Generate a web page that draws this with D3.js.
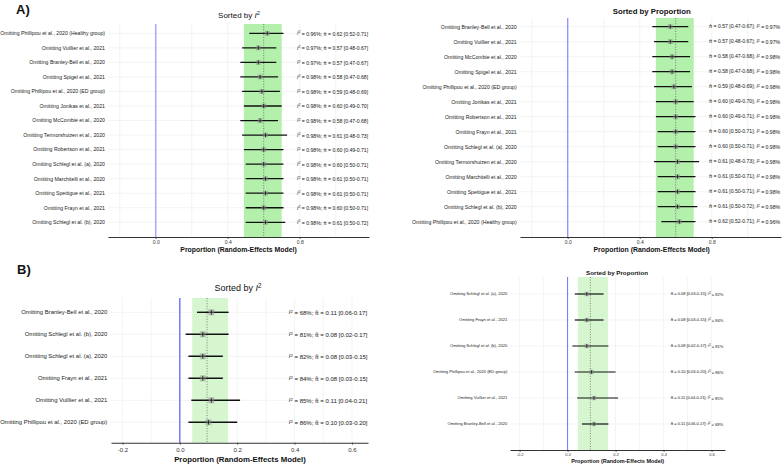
<!DOCTYPE html>
<html><head><meta charset="utf-8">
<script src="https://cdn.jsdelivr.net/npm/d3@7"></script>
<style>
body{margin:0;background:#fff}
svg{display:block;font-family:"Liberation Sans",Arial,Helvetica,sans-serif}
</style>
</head><body>
<svg id="chart" width="783" height="464"></svg>
<script>
// ---------------- DATA: Panel A (14 leave-one-out analyses) ----------------
const studiesA = [
  "Phillipou et al., 2020 (Healthy group)", "Vuillier et al., 2021", "Branley-Bell et al., 2020",
  "Spigel et al., 2021", "Phillipou et al., 2020 (ED group)", "Jonikas et al., 2021",
  "McCombie et al., 2020", "Termorshuizen et al., 2020", "Robertson et al., 2021",
  "Schlegl et al. (a), 2020", "Marchitelli et al., 2020", "Spettigue et al., 2021",
  "Frayn et al., 2021", "Schlegl et al. (b), 2020"
];
const estA  = [0.62, 0.57, 0.57, 0.58, 0.59, 0.60, 0.58, 0.61, 0.60, 0.60, 0.61, 0.61, 0.60, 0.61];
const lowA  = [0.52, 0.48, 0.47, 0.47, 0.48, 0.49, 0.47, 0.48, 0.49, 0.50, 0.50, 0.50, 0.50, 0.50];
const highA = [0.71, 0.67, 0.67, 0.68, 0.69, 0.70, 0.68, 0.73, 0.71, 0.71, 0.71, 0.71, 0.71, 0.72];
const i2A   = [0.96, 0.97, 0.97, 0.98, 0.98, 0.98, 0.98, 0.98, 0.98, 0.98, 0.98, 0.98, 0.98, 0.98];
const orderA_I2 = studiesA.slice();
const orderA_Prop = [
  "Branley-Bell et al., 2020", "Vuillier et al., 2021", "McCombie et al., 2020", "Spigel et al., 2021",
  "Phillipou et al., 2020 (ED group)", "Jonikas et al., 2021", "Robertson et al., 2021",
  "Frayn et al., 2021", "Schlegl et al. (a), 2020", "Termorshuizen et al., 2020",
  "Marchitelli et al., 2020", "Spettigue et al., 2021", "Schlegl et al. (b), 2020",
  "Phillipou et al., 2020 (Healthy group)"
];
const pooledA = [0.60, 0.49, 0.70];   // estimate, lower, upper
const ticksA = [0.0, 0.4, 0.8];
const gridA  = [-0.2, 0.0, 0.2, 0.4, 0.6, 0.8, 1.0];

// ---------------- DATA: Panel B (6 leave-one-out analyses) ----------------
const studiesB = [
  "Branley-Bell et al., 2020", "Schlegl et al. (b), 2020", "Schlegl et al. (a), 2020",
  "Frayn et al., 2021", "Vuillier et al., 2021", "Phillipou et al., 2020 (ED group)"
];
const estB  = [0.11, 0.08, 0.08, 0.08, 0.11, 0.10];
const lowB  = [0.06, 0.02, 0.03, 0.03, 0.04, 0.03];
const highB = [0.17, 0.17, 0.15, 0.15, 0.21, 0.20];
const i2B   = [68, 81, 82, 84, 85, 86];
const orderB_I2 = studiesB.slice();
const orderB_Prop = [
  "Schlegl et al. (a), 2020", "Frayn et al., 2021", "Schlegl et al. (b), 2020",
  "Phillipou et al., 2020 (ED group)", "Vuillier et al., 2021", "Branley-Bell et al., 2020"
];
const pooledB = [0.095, 0.043, 0.168];
const ticksB = [-0.2, 0.0, 0.2, 0.4, 0.6];
const gridB  = [-0.2, -0.1, 0.0, 0.1, 0.2, 0.3, 0.4, 0.5, 0.6];

const axisTitle = "Proportion (Random-Effects Model)";
const PIHAT = "\u03C0\u0302";

// ---------------- DRAWING ----------------
const svg = d3.select("#chart");

function buildRows(studies, est, low, high, i2) {
  return studies.map((s, i) => ({ name: s, est: est[i], low: low[i], high: high[i], i2: i2[i] }));
}
const rowsA = buildRows(studiesA, estA, lowA, highA, i2A);
const rowsB = buildRows(studiesB, estB, lowB, highB, i2B);

function addI2(textSel, supSize) {
  textSel.append("tspan").attr("font-style", "italic").text("I");
  textSel.append("tspan").attr("dy", "-0.45em").attr("font-size", supSize).text("2");
}
function addPi(textSel) {
  textSel.append("tspan").attr("font-family", "DejaVu Sans").text(PIHAT);
}

function drawPanel(c) {
  const g = svg.append("g");
  const x = d3.scaleLinear().domain(c.domain).range(c.xr);
  const y = d3.scalePoint().domain(c.order).range(c.yr);
  const rows = c.order.map(n => c.rows.find(r => r.name === n));
  const f2 = d3.format(".2f");

  // vertical grid
  g.selectAll(".vg").data(c.grid).join("line")
    .attr("x1", d => x(d)).attr("x2", d => x(d))
    .attr("y1", c.top).attr("y2", c.axisY)
    .attr("stroke", "#ececec").attr("stroke-width", 0.6);
  // horizontal grid
  g.selectAll(".hg").data(c.order).join("line")
    .attr("x1", c.xr[0]).attr("x2", c.xr[1])
    .attr("y1", d => y(d)).attr("y2", d => y(d))
    .attr("stroke", "#ececec").attr("stroke-width", 0.6);

  // pooled band
  g.append("rect")
    .attr("x", x(c.pooled[1])).attr("width", x(c.pooled[2]) - x(c.pooled[1]))
    .attr("y", c.top).attr("height", c.axisY - c.top)
    .attr("fill", c.bandColor);
  // pooled estimate dotted line
  g.append("line")
    .attr("x1", x(c.pooled[0])).attr("x2", x(c.pooled[0]))
    .attr("y1", c.top).attr("y2", c.axisY)
    .attr("stroke", "#555").attr("stroke-width", 0.7).attr("stroke-dasharray", "1,1.6");
  // zero line
  g.append("line")
    .attr("x1", x(0)).attr("x2", x(0))
    .attr("y1", c.top).attr("y2", c.axisY)
    .attr("stroke", c.zeroColor).attr("stroke-width", c.zeroWidth);

  // CI lines
  g.selectAll(".ci").data(rows).join("line")
    .attr("x1", d => x(d.low)).attr("x2", d => x(d.high))
    .attr("y1", d => y(d.name)).attr("y2", d => y(d.name))
    .attr("stroke", "#111").attr("stroke-width", c.ciWidth);
  // point squares
  g.selectAll(".pt").data(rows).join("rect")
    .attr("x", d => x(d.est) - c.sq / 2).attr("y", d => y(d.name) - c.sq / 2)
    .attr("width", c.sq).attr("height", c.sq)
    .attr("fill", "#8c8c8c").attr("fill-opacity", 0.5);
  g.selectAll(".tk").data(rows).join("line")
    .attr("x1", d => x(d.est)).attr("x2", d => x(d.est))
    .attr("y1", d => y(d.name) - c.sq * 0.4).attr("y2", d => y(d.name) + c.sq * 0.4)
    .attr("stroke", "#111").attr("stroke-width", 0.8);

  // study labels
  g.selectAll(".lab").data(rows).join("text")
    .attr("x", c.labelX).attr("y", d => y(d.name)).attr("dy", "0.35em")
    .attr("text-anchor", "end").attr("font-size", c.labelFont).attr("fill", "#222")
    .text(d => "Omitting " + d.name);

  // annotations
  rows.forEach(d => {
    const t = g.append("text")
      .attr("x", x(c.annX)).attr("y", y(d.name)).attr("dy", "0.35em")
      .attr("font-size", c.annFont).attr("fill", "#222");
    const ci = " = " + f2(d.est) + " [" + f2(d.low) + "-" + f2(d.high) + "]";
    const i2txt = c.i2Pct ? d3.format("d")(d.i2) + "%" : f2(d.i2) + "%";
    if (c.i2First) {
      addI2(t, c.annFont * 0.7);
      t.append("tspan").attr("dy", "0.45em").text(" = " + i2txt + "; ");
      addPi(t);
      t.append("tspan").text(ci);
    } else {
      addPi(t);
      t.append("tspan").text(ci + "; ");
      addI2(t, c.annFont * 0.7);
      t.append("tspan").attr("dy", "0.45em").text(" = " + i2txt);
    }
  });

  // x axis
  const ax = g.append("g").attr("transform", `translate(0,${c.axisY})`)
    .call(d3.axisBottom(x).tickValues(c.ticks).tickFormat(d => d.toFixed(1))
      .tickSize(2).tickSizeOuter(0).tickPadding(c.tickPad));
  ax.select(".domain").attr("stroke", "#333").attr("stroke-width", 1.1);
  ax.selectAll(".tick line").attr("stroke", "#333").attr("stroke-width", 0.8);
  ax.selectAll(".tick text").attr("font-size", c.tickFont).attr("fill", "#333")
    .attr("font-family", "Liberation Sans, Arial, sans-serif");

  // axis title
  g.append("text").attr("x", c.axTitleX).attr("y", c.axTitleY)
    .attr("text-anchor", "middle").attr("font-size", c.axTitleFont)
    .attr("font-weight", "bold").attr("fill", "#111").text(axisTitle);

  // panel title
  const tt = g.append("text").attr("x", c.titleX).attr("y", c.titleY)
    .attr("text-anchor", "middle").attr("font-size", c.titleFont).attr("fill", "#111");
  if (c.titleBold) {
    tt.attr("font-weight", "bold").text("Sorted by Proportion");
  } else {
    tt.append("tspan").text("Sorted by ");
    addI2(tt, c.titleFont * 0.7);
  }
}

// A-left
drawPanel({
  rows: rowsA, order: orderA_I2, pooled: pooledA, ticks: ticksA, grid: gridA,
  domain: [-0.265, 1.185], xr: [108, 369], yr: [33.3, 222.3], top: 24, axisY: 237,
  labelX: 105, labelFont: 5.2, annX: 0.785, annFont: 5.1, i2First: true, i2Pct: false,
  bandColor: "#b3f0ac", zeroColor: "#a8a8ff", zeroWidth: 1.5, ciWidth: 1.3, sq: 5,
  tickFont: 5, tickPad: 1.2, axTitleX: 238.5, axTitleY: 251.5, axTitleFont: 6.9,
  titleX: 239, titleY: 18, titleFont: 8, titleBold: false
});
// A-right
drawPanel({
  rows: rowsA, order: orderA_Prop, pooled: pooledA, ticks: ticksA, grid: gridA,
  domain: [-0.265, 1.185], xr: [520, 781], yr: [26.7, 221.7], top: 18, axisY: 237,
  labelX: 516.7, labelFont: 5.2, annX: 0.785, annFont: 5.1, i2First: false, i2Pct: false,
  bandColor: "#b3f0ac", zeroColor: "#8f8fff", zeroWidth: 1.3, ciWidth: 1.3, sq: 5,
  tickFont: 5, tickPad: 1.2, axTitleX: 651.7, axTitleY: 251.5, axTitleFont: 6.9,
  titleX: 651.7, titleY: 13.5, titleFont: 7.8, titleBold: true
});
// B-left
drawPanel({
  rows: rowsB, order: orderB_I2, pooled: pooledB, ticks: ticksB, grid: gridB,
  domain: [-0.24, 0.656], xr: [111, 368], yr: [312.3, 422.3], top: 298, axisY: 442.7,
  labelX: 107.3, labelFont: 5.9, annX: 0.38, annFont: 6, i2First: true, i2Pct: true,
  bandColor: "#d6f6d0", zeroColor: "#4a4aff", zeroWidth: 1.1, ciWidth: 1.4, sq: 6,
  tickFont: 6, tickPad: 3, axTitleX: 240, axTitleY: 462, axTitleFont: 7.8,
  titleX: 238, titleY: 291, titleFont: 9, titleBold: false
});
// B-right
drawPanel({
  rows: rowsB, order: orderB_Prop, pooled: pooledB, ticks: ticksB, grid: gridB,
  domain: [-0.24, 0.656], xr: [510, 725], yr: [294, 424], top: 277, axisY: 450,
  labelX: 507.3, labelFont: 4.1, annX: 0.43, annFont: 4, i2First: false, i2Pct: true,
  bandColor: "#d6f6d0", zeroColor: "#7070ff", zeroWidth: 1, ciWidth: 1.2, sq: 4.5,
  tickFont: 4, tickPad: 1.6, axTitleX: 617.7, axTitleY: 462.5, axTitleFont: 5.5,
  titleX: 617, titleY: 275, titleFont: 6.2, titleBold: true
});

// panel letters
svg.append("text").attr("x", 16).attr("y", 14).attr("font-size", 13)
  .attr("font-weight", "bold").attr("fill", "#111").text("A)");
svg.append("text").attr("x", 17).attr("y", 274).attr("font-size", 13)
  .attr("font-weight", "bold").attr("fill", "#111").text("B)");
</script>
</body></html>
